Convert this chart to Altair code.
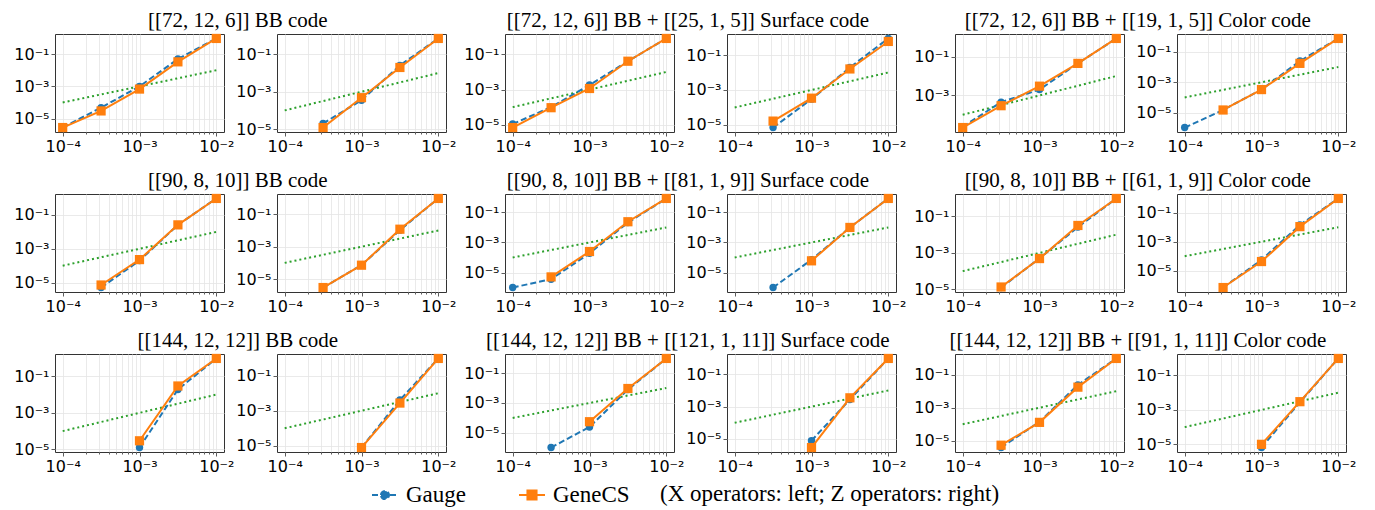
import math
import altair as alt
import pandas as pd

# physical error rates (x) and the p_L = p guide line
P = [1e-4, 3.162e-4, 1e-3, 3.162e-3, 1e-2]
GUIDE = [1e-4, 1e-2]

TITLES = [
    "[[72, 12, 6]] BB code",
    "[[72, 12, 6]] BB + [[25, 1, 5]] Surface code",
    "[[72, 12, 6]] BB + [[19, 1, 5]] Color code",
    "[[90, 8, 10]] BB code",
    "[[90, 8, 10]] BB + [[81, 1, 9]] Surface code",
    "[[90, 8, 10]] BB + [[61, 1, 9]] Color code",
    "[[144, 12, 12]] BB code",
    "[[144, 12, 12]] BB + [[121, 1, 11]] Surface code",
    "[[144, 12, 12]] BB + [[91, 1, 11]] Color code",
]
SERIES = ["Gauge", "GeneCS"]
NOTE = "(X operators: left; Z operators: right)"

# logical error rates, None = no failures observed
gauge_72_bb_x = [2.8e-6, 4.8e-5, 1.0e-3, 4.9e-2, 0.93]
genecs_72_bb_x = [2.8e-6, 3.0e-5, 6.8e-4, 3.3e-2, 0.93]
gauge_72_bb_z = [None, 2.0e-5, 3.5e-4, 2.6e-2, 0.72]
genecs_72_bb_z = [None, 1.2e-5, 4.8e-4, 2.0e-2, 0.72]
gauge_72_sc_x = [1.1e-5, 1.0e-4, 1.8e-3, 4.1e-2, 0.81]
genecs_72_sc_x = [6.9e-6, 9.3e-5, 1.15e-3, 4.1e-2, 0.81]
gauge_72_sc_z = [None, 7.1e-6, 3.0e-4, 1.95e-2, 0.89]
genecs_72_sc_z = [None, 1.66e-5, 3.4e-4, 1.6e-2, 0.6]
gauge_72_cc_x = [2.4e-5, 4.5e-4, 2.0e-3, 4.5e-2, 0.87]
genecs_72_cc_x = [2.2e-5, 2.95e-4, 3.0e-3, 4.5e-2, 0.87]
gauge_72_cc_z = [1.05e-6, 1.5e-5, 3.3e-4, 2.5e-2, 0.76]
genecs_72_cc_z = [None, 1.5e-5, 3.3e-4, 1.75e-2, 0.76]

gauge_90_bb_x = [None, 5.1e-6, 2.0e-4, 2.6e-2, 0.95]
genecs_90_bb_x = [None, 7.2e-6, 2.3e-4, 2.6e-2, 0.95]
gauge_90_bb_z = [None, 3.0e-6, 7.2e-5, 1.05e-2, 0.95]
genecs_90_bb_z = [None, 3.0e-6, 7.2e-5, 1.2e-2, 0.95]
gauge_90_sc_x = [1.0e-6, 3.6e-6, 1.9e-4, 2.1e-2, 0.85]
genecs_90_sc_x = [None, 5.1e-6, 2.5e-4, 2.4e-2, 0.85]
gauge_90_sc_z = [None, 1.0e-6, 7.1e-5, 1.0e-2, 0.85]
genecs_90_sc_z = [None, None, 6.0e-5, 1.0e-2, 0.85]
gauge_90_cc_x = [None, 1.26e-5, 5.0e-4, 2.6e-2, 0.97]
genecs_90_cc_x = [None, 1.35e-5, 4.9e-4, 3.2e-2, 0.97]
gauge_90_cc_z = [None, 6.9e-7, 5.6e-5, 1.45e-2, 0.97]
genecs_90_cc_z = [None, 6.9e-7, 4.3e-5, 1.1e-2, 0.97]

gauge_144_bb_x = [None, None, 1.26e-5, 1.9e-2, 0.95]
genecs_144_bb_x = [None, None, 2.95e-5, 2.95e-2, 0.95]
gauge_144_bb_z = [None, None, 7.9e-6, 4.1e-3, 0.97]
genecs_144_bb_z = [None, None, 7.9e-6, 2.75e-3, 0.97]
gauge_144_sc_x = [None, 1.05e-6, 2.5e-5, 7.9e-3, 0.95]
genecs_144_sc_x = [None, None, 5.6e-5, 9.3e-3, 0.95]
gauge_144_sc_z = [None, None, 7.9e-6, 2.75e-3, 0.95]
genecs_144_sc_z = [None, None, 2.95e-6, 3.5e-3, 0.95]
gauge_144_cc_x = [None, 3.9e-6, 1.4e-4, 2.4e-2, 0.95]
genecs_144_cc_x = [None, 5.4e-6, 1.3e-4, 1.75e-2, 0.95]
gauge_144_cc_z = [None, None, 6.5e-6, 2.8e-3, 0.97]
genecs_144_cc_z = [None, None, 1.0e-5, 3.0e-3, 0.97]

PANELS = [
    [(gauge_72_bb_x, genecs_72_bb_x), (gauge_72_bb_z, genecs_72_bb_z),
     (gauge_72_sc_x, genecs_72_sc_x), (gauge_72_sc_z, genecs_72_sc_z),
     (gauge_72_cc_x, genecs_72_cc_x), (gauge_72_cc_z, genecs_72_cc_z)],
    [(gauge_90_bb_x, genecs_90_bb_x), (gauge_90_bb_z, genecs_90_bb_z),
     (gauge_90_sc_x, genecs_90_sc_x), (gauge_90_sc_z, genecs_90_sc_z),
     (gauge_90_cc_x, genecs_90_cc_x), (gauge_90_cc_z, genecs_90_cc_z)],
    [(gauge_144_bb_x, genecs_144_bb_x), (gauge_144_bb_z, genecs_144_bb_z),
     (gauge_144_sc_x, genecs_144_sc_x), (gauge_144_sc_z, genecs_144_sc_z),
     (gauge_144_cc_x, genecs_144_cc_x), (gauge_144_cc_z, genecs_144_cc_z)],
]

BLUE, ORANGE, GREEN = "#1f77b4", "#ff7f0e", "#2ca02c"
W, H = 169, 98
XDOM = [10 ** -4.1, 10 ** -1.9]
SERIF = "Liberation Serif"

SUPS = {"-": "\u207b", "0": "\u2070", "1": "\u00b9", "2": "\u00b2", "3": "\u00b3",
        "4": "\u2074", "5": "\u2075", "6": "\u2076", "7": "\u2077", "8": "\u2078", "9": "\u2079"}


def pow_label(k):
    return "10" + "".join(SUPS[ch] for ch in str(k))


E = "round(log(datum.value) / LN10)"
IS_DEC = f"abs(log(datum.value) / LN10 - {E}) < 0.01"


def label_expr(exps):
    parts = " : ".join(f"{E} == {k} ? '{pow_label(k)}'" for k in exps)
    return f"{IS_DEC} ? ({parts} : '') : ''"


X_TICKS = [m * 10.0 ** d for d in (-4, -3) for m in range(1, 10)] + [1e-2]

x_axis = alt.Axis(values=X_TICKS, labelExpr=label_expr([-4, -3, -2]),
                  tickSize={"condition": {"test": IS_DEC, "value": 4}, "value": 2},
                  labelFlush=False, labelOverlap=False, title=None)
x_enc = alt.X("p:Q", scale=alt.Scale(type="log", domain=XDOM, nice=False), axis=x_axis)

GAUGE_SYM = "M-1,0L1,0M-0.31,0A0.31,0.31,0,1,1,0.31,0A0.31,0.31,0,1,1,-0.31,0Z"
GENECS_SYM = "M-1,0L1,0M-0.35,-0.35L0.35,-0.35L0.35,0.35L-0.35,0.35Z"

legend = alt.Legend(
    orient="none", legendX=316, legendY=447, direction="horizontal",
    title=NOTE, titleOrient="right", titleFont=SERIF, titleFontSize=23,
    titleFontWeight="normal", titleColor="black", titlePadding=30, titleBaseline="middle",
    titleLimit=600,
    labelFont=SERIF, labelFontSize=23, labelColor="black", labelOffset=7, labelLimit=200,
    columnPadding=48, symbolSize=676, symbolStrokeWidth=2,
    symbolType=alt.ExprRef(f"datum.value === 'Gauge' ? '{GAUGE_SYM}' : '{GENECS_SYM}'"),
    symbolFillColor=alt.ExprRef(f"datum.value === 'Gauge' ? '{BLUE}' : '{ORANGE}'"),
    symbolDash=alt.ExprRef("datum.value === 'Gauge' ? [6, 3] : [1, 0]"),
)
color_enc = alt.Color("series:N", scale=alt.Scale(domain=SERIES, range=[BLUE, ORANGE]), legend=legend)


def panel(gauge, genecs):
    rows = []
    for name, vals in (("Gauge", gauge), ("GeneCS", genecs)):
        for p, v in zip(P, vals):
            if v is not None:
                rows.append({"p": p, "v": v, "series": name})
    df = pd.DataFrame(rows)
    guide = pd.DataFrame({"p": GUIDE, "v": GUIDE})
    allv = list(df["v"]) + GUIDE
    lo, hi = math.log10(min(allv)), math.log10(max(allv))
    m = 0.05 * (hi - lo)
    ydom = [10 ** (lo - m), 10 ** (hi + m)]
    yvals = [10.0 ** k for k in (-7, -5, -3, -1) if ydom[0] <= 10.0 ** k <= ydom[1]]
    y_axis = alt.Axis(values=yvals, labelExpr=label_expr([-7, -5, -3, -1]), tickSize=4,
                      labelFlush=False, labelOverlap=False, title=None)
    y_enc = alt.Y("v:Q", scale=alt.Scale(type="log", domain=ydom, nice=False), axis=y_axis)

    g = df[df.series == "Gauge"]
    c = df[df.series == "GeneCS"]
    layers = [
        alt.Chart(guide).mark_line(color=GREEN, strokeDash=[2, 3], strokeWidth=2).encode(x=x_enc, y=y_enc),
        alt.Chart(g).mark_line(strokeWidth=2, strokeDash=[6, 3]).encode(x=x_enc, y=y_enc, color=color_enc),
        alt.Chart(g).mark_circle(size=55, opacity=1, color=BLUE).encode(x=x_enc, y=y_enc),
        alt.Chart(c).mark_line(strokeWidth=2).encode(x=x_enc, y=y_enc, color=color_enc),
        alt.Chart(c).mark_square(size=85, opacity=1, color=ORANGE).encode(x=x_enc, y=y_enc),
    ]
    return alt.layer(*layers).properties(width=W, height=H)


rows = []
for r in range(3):
    pairs = []
    for j in range(3):
        a = panel(*PANELS[r][2 * j])
        b = panel(*PANELS[r][2 * j + 1])
        pairs.append(alt.hconcat(a, b, spacing=0).properties(
            title=alt.TitleParams(TITLES[3 * r + j], font=SERIF, fontSize=21,
                                  fontWeight="normal", color="black", anchor="middle",
                                  dx=3, offset=2)))
    rows.append(alt.hconcat(*pairs, spacing=6))

chart = alt.vconcat(*rows, spacing=15).configure_view(
    stroke="#333333", strokeWidth=1
).configure_axis(
    labelFont="DejaVu Sans", labelFontSize=16, labelColor="black",
    tickColor="#333333", tickWidth=0.8, domain=False,
    gridColor="#e4e4e4", gridWidth=0.8, labelPadding=2,
).configure_legend(
    labelFont=SERIF, titleFont=SERIF,
).properties(padding={"left": 5, "top": 2, "right": 5, "bottom": 0})

chart.save("out.html", embed_options={"renderer": "svg", "actions": False})
